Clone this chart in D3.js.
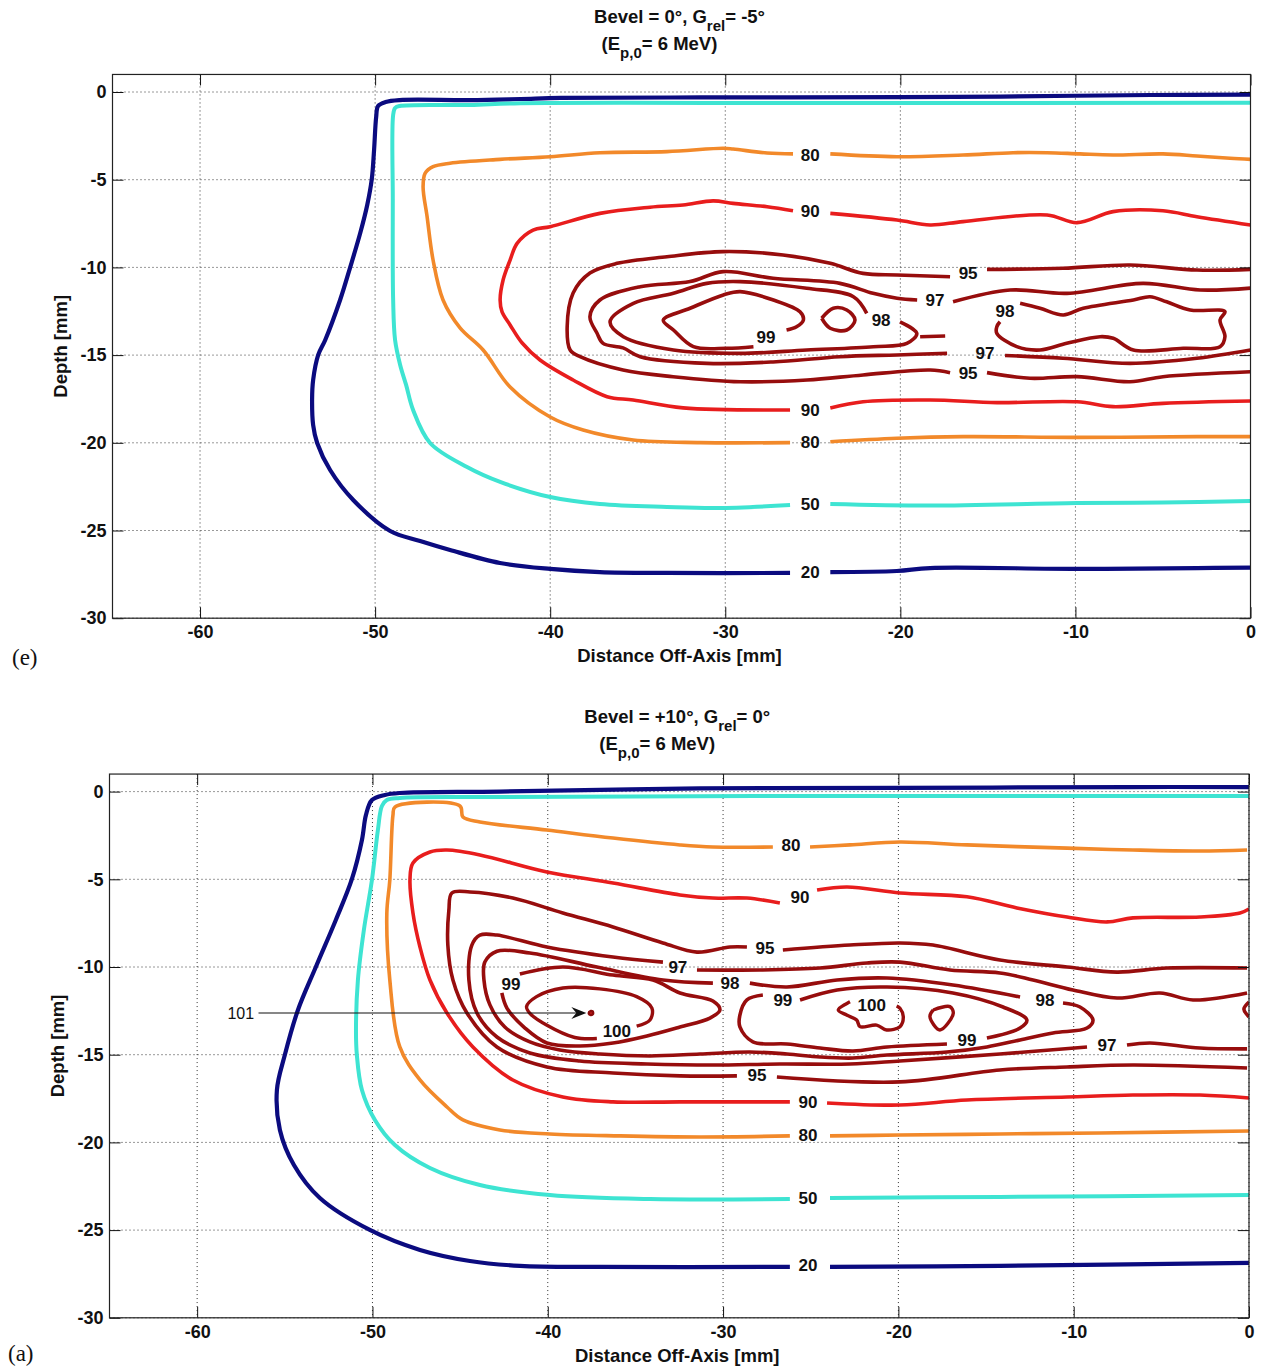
<!DOCTYPE html>
<html>
<head>
<meta charset="utf-8">
<script src="https://cdn.jsdelivr.net/npm/d3@7"></script>
<style>
  body { margin: 0; background: #fff; }
  svg { display: block; }
</style>
</head>
<body>
<svg id="fig" width="1262" height="1369"></svg>
<script>
// ---------- axis ticks ----------
const xTicks = [-60, -50, -40, -30, -20, -10, 0];
const yTicks = [0, -5, -10, -15, -20, -25, -30];

// ---------- panel (e): Bevel = 0°, Grel = -5° ----------
// each contour level is a list of line pieces (broken where the inline labels sit), points are [mm off-axis, depth mm]
const e20 = [
  [[0,-0.15],[-5.7,-0.17],[-14.3,-0.26],[-20.0,-0.29],[-31.4,-0.31],[-39.4,-0.34],[-41.7,-0.4],[-44.6,-0.46],[-48.6,-0.46],[-49.4,-0.57],[-49.83,-0.8],[-49.94,-1.43],[-50.06,-3.31],[-50.19,-4.96],[-50.45,-6.44],[-50.85,-8.04],[-51.42,-9.98],[-52.0,-11.86],[-52.85,-14.14],[-53.25,-14.99],[-53.54,-16.42],[-53.6,-17.56],[-53.54,-18.98],[-53.31,-20.01],[-52.57,-21.55],[-51.25,-23.26],[-49.14,-25.03],[-47.43,-25.6],[-45.72,-26.11],[-42.87,-26.85],[-40.0,-27.19],[-37.16,-27.37],[-33.33,-27.42],[-26.3,-27.42]],
  [[-24.0,-27.37],[-20.2,-27.31],[-18.3,-27.14],[-9.9,-27.19],[-3.06,-27.14],[0,-27.12]]
];
const e50 = [
  [[0,-0.61],[-24.0,-0.63],[-41.7,-0.64],[-44.6,-0.74],[-48.6,-0.8],[-48.86,-0.91],[-48.97,-1.31],[-48.99,-6.16],[-48.97,-11.86],[-48.86,-14.14],[-48.57,-15.56],[-48.23,-16.7],[-47.83,-18.13],[-46.86,-20.01],[-44.75,-21.38],[-42.86,-22.23],[-40.0,-23.09],[-37.16,-23.49],[-33.33,-23.66],[-30.47,-23.72],[-26.3,-23.55]],
  [[-24.0,-23.49],[-18.3,-23.58],[-9.9,-23.43],[-5.0,-23.41],[0,-23.32]]
];
const e80 = [
  [[0,-3.84],[-1.17,-3.78],[-3.06,-3.65],[-5.0,-3.53],[-7.85,-3.59],[-9.74,-3.53],[-11.62,-3.46],[-13.56,-3.46],[-16.42,-3.59],[-20.19,-3.69],[-24.0,-3.53]],
  [[-26.13,-3.53],[-27.61,-3.48],[-29.55,-3.25],[-30.12,-3.21],[-33.33,-3.4],[-37.16,-3.46],[-40.0,-3.69],[-42.86,-3.84],[-45.72,-4.06],[-46.69,-4.26],[-47.14,-4.63],[-47.26,-5.4],[-47.03,-7.11],[-46.69,-9.58],[-46.12,-11.86],[-45.15,-13.45],[-43.83,-14.71],[-42.29,-16.82],[-40.0,-18.53],[-38.12,-19.27],[-35.26,-19.84],[-31.44,-19.99],[-26.3,-19.99]],
  [[-24.0,-19.94],[-20.19,-19.74],[-16.42,-19.65],[-9.91,-19.69],[-3.06,-19.65],[0,-19.65]]
];
const e90 = [
  [[0,-7.58],[-3.06,-7.11],[-5.0,-6.77],[-7.85,-6.82],[-9.91,-7.45],[-11.62,-7.01],[-16.42,-7.39],[-18.3,-7.58],[-20.19,-7.3],[-24.0,-6.92]],
  [[-26.13,-6.77],[-27.61,-6.54],[-29.55,-6.35],[-30.69,-6.21],[-32.41,-6.44],[-34.29,-6.57],[-37.16,-6.92],[-40.0,-7.68],[-40.98,-7.87],[-41.89,-8.63],[-42.29,-9.58],[-42.69,-10.72],[-42.86,-11.86],[-42.75,-12.54],[-42.29,-13.28],[-41.6,-14.31],[-40.58,-15.28],[-38.69,-16.42],[-36.75,-17.37],[-35.26,-17.56],[-32.41,-18.01],[-26.3,-18.13]],
  [[-24.0,-18.01],[-22.13,-17.66],[-18.3,-17.56],[-14.48,-17.71],[-9.91,-17.66],[-7.85,-17.94],[-5.0,-17.75],[0,-17.62]]
];
const e95 = [
  [[0,-10.11],[-3.06,-10.15],[-6.88,-9.86],[-10.71,-10.05],[-15.05,-10.11]],
  [[-17.16,-10.53],[-20.19,-10.43],[-22.13,-10.34],[-24.0,-9.77],[-26.7,-9.29],[-30.12,-9.1],[-33.33,-9.39],[-36.18,-9.77],[-37.73,-10.32],[-38.69,-11.46],[-39.03,-13.38],[-38.86,-14.71],[-38.29,-15.09],[-35.84,-15.85],[-32.98,-16.23],[-29.15,-16.52],[-25.33,-16.42],[-22.13,-16.13],[-18.3,-15.85],[-17.16,-16.0]],
  [[-15.05,-16.0],[-12.59,-16.32],[-9.91,-16.23],[-6.88,-16.52],[-5.0,-16.23],[0,-15.95]]
];
const e97 = [
  [[0,-11.18],[-2.88,-11.29],[-6.14,-10.91],[-10.48,-11.48],[-13.73,-11.29],[-16.99,-11.96]],
  [[-19.04,-11.86],[-20.19,-11.76],[-21.56,-11.48],[-23.45,-10.91],[-27.27,-10.62],[-30.12,-10.24],[-32.01,-10.81],[-34.86,-11.1],[-37.16,-11.86],[-37.73,-12.81],[-37.33,-13.74],[-36.98,-14.33],[-35.84,-14.59],[-34.86,-15.09],[-31.05,-15.47],[-27.27,-15.39],[-23.45,-15.09],[-20.19,-14.99],[-17.33,-14.9]],
  [[-14.02,-15.02],[-10.71,-15.18],[-6.88,-15.47],[-3.06,-15.18],[0,-14.71]]
];
const e98 = [
  [[-20.02,-13.1],[-19.06,-13.76],[-19.63,-14.33],[-21.54,-14.52],[-25.35,-14.71],[-29.15,-14.9],[-32.96,-14.71],[-35.82,-13.95],[-36.58,-13.1],[-35.25,-12.05],[-32.96,-11.48],[-31.06,-10.91],[-29.15,-10.81],[-25.35,-11.19],[-22.68,-11.67],[-21.92,-12.62]],
  [[-18.87,-13.95],[-17.44,-13.91]],
  [[-13.16,-12.05],[-12.02,-12.33],[-10.69,-12.71],[-9.55,-12.33],[-6.69,-11.86],[-5.74,-11.67],[-4.79,-11.96],[-3.45,-12.43],[-1.46,-12.52],[-1.74,-13.0],[-1.46,-13.95],[-1.74,-14.52],[-3.84,-14.61],[-6.69,-14.71],[-7.84,-14.04],[-8.59,-13.95],[-10.5,-14.33],[-12.02,-14.71],[-13.35,-14.52],[-14.49,-13.76],[-14.49,-13.38],[-14.31,-13.1]]
];
const e99 = [
  [[-26.5,-13.57],[-25.93,-13.38],[-25.54,-13.0],[-25.73,-12.53],[-27.25,-11.86],[-29.15,-11.38],[-30.11,-11.57],[-32.01,-12.33],[-33.54,-13.0],[-32.96,-13.57],[-31.82,-14.52],[-29.91,-14.61],[-28.39,-14.52]],
  [[-24.49,-12.9],[-23.83,-12.33],[-23.06,-12.43],[-22.59,-13.0],[-23.06,-13.57],[-24.01,-13.47],[-24.49,-12.9]]
];
// inline labels: [level, x mm, depth mm]
const eLabels = [
  [20,-25.15,-27.37],[50,-25.15,-23.49],[80,-25.15,-3.59],[80,-25.15,-19.95],
  [90,-25.15,-6.78],[90,-25.15,-18.13],[95,-16.13,-10.32],[95,-16.13,-16.02],
  [97,-18.02,-11.86],[97,-15.16,-14.88],[98,-21.1,-13.0],[98,-14.02,-12.49],[99,-27.67,-13.97]
];

// ---------- panel (a): Bevel = +10°, Grel = 0° ----------
const a20 = [
  [[0,0.26],[-6.79,0.26],[-19.91,0.21],[-31.32,0.18],[-42.73,0.0],[-48.44,-0.08],[-49.29,-0.19],[-50.03,-0.48],[-50.37,-1.33],[-50.6,-2.76],[-51.17,-4.98],[-52.09,-7.32],[-53.23,-10.0],[-54.25,-12.45],[-55.0,-15.02],[-55.45,-17.01],[-55.28,-19.29],[-54.48,-21.29],[-53.0,-23.17],[-50.15,-24.99],[-47.29,-26.13],[-44.44,-26.76],[-41.59,-27.04],[-37.03,-27.1],[-26.19,-27.1]],
  [[-23.9,-27.1],[-14.21,-27.04],[0,-26.87]]
];
const a50 = [
  [[0,-0.25],[-25.61,-0.25],[-42.73,-0.31],[-48.44,-0.36],[-49.18,-0.48],[-49.46,-0.82],[-49.69,-2.19],[-50.03,-5.04],[-50.49,-7.89],[-50.83,-10.74],[-50.94,-13.59],[-50.89,-15.02],[-50.6,-17.01],[-49.86,-18.72],[-48.72,-20.15],[-46.72,-21.46],[-43.87,-22.43],[-39.88,-23.0],[-34.17,-23.23],[-26.19,-23.23]],
  [[-23.9,-23.17],[-14.21,-23.11],[0,-23.0]]
];
const a80 = [
  [[-0.11,-3.33],[-2.8,-3.39],[-6.62,-3.33],[-10.38,-3.22],[-16.09,-3.04],[-19.91,-2.87],[-22.76,-3.04],[-25.04,-3.16]],
  [[-27.16,-3.16],[-30.58,-3.16],[-32.46,-3.04],[-36.28,-2.65],[-40.05,-2.19],[-43.87,-1.73],[-44.84,-1.45],[-45.01,-0.82],[-48.72,-0.88],[-48.83,-1.33],[-49.01,-5.04],[-49.18,-6.92],[-49.01,-10.74],[-48.44,-14.56],[-47.29,-16.44],[-45.75,-17.98],[-44.84,-18.72],[-42.73,-19.29],[-39.88,-19.52],[-35.88,-19.63],[-31.32,-19.69],[-26.19,-19.63]],
  [[-23.9,-19.63],[-19.91,-19.58],[-14.21,-19.52],[-8.5,-19.46],[0,-19.35]]
];
const a90 = [
  [[0,-6.69],[-0.51,-6.92],[-2.8,-7.15],[-6.62,-7.2],[-8.1,-7.43],[-10.38,-7.15],[-13.24,-6.63],[-16.09,-6.0],[-19.91,-5.78],[-22.93,-5.44],[-24.64,-5.61]],
  [[-26.76,-6.35],[-28.64,-6.07],[-30.58,-6.07],[-32.46,-5.89],[-36.28,-5.21],[-40.05,-4.58],[-43.87,-3.61],[-45.75,-3.33],[-46.72,-3.44],[-47.69,-4.07],[-47.86,-5.04],[-47.69,-6.92],[-47.29,-8.86],[-46.72,-10.74],[-45.75,-12.62],[-44.27,-14.56],[-41.99,-16.44],[-39.14,-17.41],[-36.28,-17.69],[-32.46,-17.69],[-26.19,-17.69]],
  [[-24.07,-17.75],[-19.91,-17.87],[-16.09,-17.58],[-10.38,-17.41],[-6.62,-17.3],[-2.8,-17.3],[0,-17.47]]
];
const a95 = [
  [[-0.11,-10.06],[-4.68,-10.06],[-7.53,-10.29],[-10.38,-10.0],[-14.21,-9.6],[-18.03,-8.75],[-19.91,-8.63],[-22.76,-8.75],[-26.59,-9.03]],
  [[-28.64,-8.86],[-29.61,-8.86],[-31.49,-9.15],[-33.43,-8.63],[-36.28,-7.72],[-39.14,-6.92],[-41.99,-6.07],[-44.44,-5.72],[-45.47,-5.78],[-45.64,-6.75],[-45.7,-8.75],[-45.41,-10.74],[-44.61,-12.62],[-42.9,-14.56],[-40.05,-15.7],[-36.28,-16.04],[-32.46,-16.21],[-29.21,-16.21]],
  [[-26.93,-16.27],[-19.91,-16.55],[-14.21,-15.87],[-10.38,-15.7],[-6.62,-15.59],[-0.11,-15.76]]
];
const a97 = [
  [[-0.11,-11.48],[-3.19,-11.88],[-5.08,-11.48],[-7.53,-11.77],[-10.04,-11.31],[-12.32,-10.74],[-14.21,-10.34],[-17.06,-10.17],[-19.91,-9.72],[-21.79,-9.77],[-24.47,-10.06],[-27.9,-10.17],[-31.49,-10.17]],
  [[-33.43,-9.72],[-36.28,-9.43],[-40.05,-8.86],[-42.9,-8.18],[-43.87,-8.18],[-44.33,-8.75],[-44.5,-10.74],[-44.04,-12.62],[-42.9,-13.99],[-41.02,-14.9],[-38.17,-15.36],[-34.34,-15.53],[-30.58,-15.59],[-26.76,-15.53],[-22.76,-15.53],[-19.91,-15.36],[-14.21,-14.96],[-9.24,-14.56]],
  [[-6.96,-14.45],[-5.65,-14.33],[-2.8,-14.62],[-0.11,-14.67]]
];
const a98 = [
  [[-28.47,-10.92],[-26.36,-11.14],[-23.5,-10.74],[-20.65,-10.63],[-16.89,-11.03],[-13.06,-11.71]],
  [[-10.61,-12.05],[-9.64,-12.28],[-8.9,-13.02],[-9.24,-13.48],[-11.18,-13.76],[-13.06,-14.16],[-14.95,-14.56],[-17.23,-14.85],[-20.65,-15.02],[-22.59,-15.19],[-24.47,-15.13],[-26.36,-14.96],[-28.47,-14.85],[-31.32,-14.96],[-34.17,-15.07],[-37.03,-14.96],[-39.31,-14.73],[-41.02,-14.27],[-42.45,-13.42],[-43.3,-12.16],[-43.64,-10.74],[-43.59,-9.72],[-42.9,-9.1],[-41.02,-9.2],[-37.2,-10.0],[-33.43,-10.74],[-30.58,-10.92]]
];
const a99 = [
  [[-41.59,-10.4],[-39.14,-10.0],[-36.28,-10.46],[-34.0,-10.74],[-32.46,-11.48],[-30.58,-11.94],[-30.18,-12.45],[-30.75,-12.91],[-32.46,-13.42],[-34.34,-13.93],[-36.28,-14.33],[-38.17,-14.5],[-40.05,-14.33],[-41.3,-13.48],[-42.33,-12.34],[-42.62,-11.48]],
  [[-25.61,-11.88],[-23.5,-11.31],[-20.65,-11.14],[-16.89,-11.48],[-14.03,-12.28],[-12.67,-13.02],[-13.06,-13.48],[-14.95,-14.05]],
  [[-17.23,-14.39],[-20.65,-14.56],[-22.59,-14.79],[-24.47,-14.62],[-26.36,-14.39],[-28.3,-14.27],[-29.04,-13.42],[-29.04,-12.74],[-28.64,-11.88],[-27.73,-11.6]],
  [[0,-12.0],[-0.29,-12.4],[0,-12.85]]
];
const a100 = [
  [[-34.93,-13.37],[-34.17,-13.02],[-34.06,-12.34],[-34.93,-11.69],[-37.03,-11.25],[-39.14,-11.2],[-40.64,-11.69],[-41.21,-12.26],[-41.02,-12.64],[-40.07,-13.31],[-38.46,-14.02],[-37.2,-14.08]],
  [[-20.1,-12.22],[-19.91,-12.35],[-19.72,-12.83],[-19.91,-13.4],[-20.67,-13.59],[-21.24,-13.31],[-22.19,-13.4],[-22.38,-13.02],[-22.95,-12.74],[-23.43,-12.45],[-22.76,-11.98]],
  [[-18.01,-12.45],[-17.06,-12.26],[-16.87,-12.64],[-17.63,-13.59],[-18.2,-12.83],[-18.01,-12.45]]
];
const a101 = [
  [[-37.62,-12.52],[-37.45,-12.52],[-37.42,-12.68],[-37.55,-12.74],[-37.66,-12.66],[-37.62,-12.52]]
];
const aLabels = [
  [20,-25.16,-26.98],[50,-25.16,-23.17],[80,-26.13,-3.04],[80,-25.16,-19.58],
  [90,-25.61,-6.0],[90,-25.16,-17.69],[95,-27.61,-8.92],[95,-28.07,-16.16],
  [97,-32.58,-10.0],[97,-8.1,-14.45],[98,-29.61,-10.92],[98,-11.64,-11.88],
  [99,-42.1,-10.97],[99,-26.59,-11.88],[99,-16.09,-14.16],[100,-36.06,-13.65],[100,-21.52,-12.16]
];
// peak annotation: label position and arrow run (mm)
const aPeak = { level: 101, label: [-57.51, -12.62], from: [-56.5, -12.62], to: [-37.8, -12.62] };

// ---------- drawing ----------
const FONT = "'Liberation Sans', Arial, Helvetica, sans-serif";
const SERIF = "'Liberation Serif', 'Times New Roman', serif";
const levelColor = { 20: "#0b0b7f", 50: "#3ee4d2", 80: "#f2892a", 90: "#e81d1d",
                     95: "#970d0d", 97: "#970d0d", 98: "#970d0d", 99: "#970d0d", 100: "#970d0d", 101: "#8a0a0a" };
const levelWidth = { 20: 4.2, 50: 4.0, 80: 3.6, 90: 3.6, 95: 3.6, 97: 3.6, 98: 3.6, 99: 3.6, 100: 3.4, 101: 2.5 };

const svg = d3.select("#fig");

function drawPanel(cfg) {
  const g = svg.append("g");
  const x = d3.scaleLinear().domain([-65, 0]).range([cfg.left, cfg.right]);
  const y = d3.scaleLinear().domain([-30, 1]).range([cfg.bottom, cfg.top]);
  const W = cfg.right - cfg.left, H = cfg.bottom - cfg.top;

  // dotted grid
  const grid = g.append("g").attr("stroke", "#333").attr("stroke-width", 1).attr("stroke-dasharray", "1,3");
  xTicks.forEach(t => grid.append("line").attr("x1", x(t)).attr("x2", x(t)).attr("y1", cfg.top).attr("y2", cfg.bottom));
  yTicks.forEach(t => grid.append("line").attr("x1", cfg.left).attr("x2", cfg.right).attr("y1", y(t)).attr("y2", y(t)));

  // contour lines
  const clipId = "clip-" + cfg.id;
  g.append("clipPath").attr("id", clipId).append("rect")
    .attr("x", cfg.left).attr("y", cfg.top).attr("width", W).attr("height", H);
  const lines = g.append("g").attr("clip-path", `url(#${clipId})`);
  const path = d3.line().x(d => x(d[0])).y(d => y(d[1])).curve(d3.curveCatmullRom.alpha(0.5));
  cfg.contours.forEach(([level, pieces]) => {
    pieces.forEach(p => {
      lines.append("path").attr("d", path(p))
        .attr("fill", level === 101 ? "#c81818" : "none")
        .attr("stroke", levelColor[level]).attr("stroke-width", levelWidth[level])
        .attr("stroke-linejoin", "round").attr("stroke-linecap", "butt");
    });
  });

  // inline contour labels
  g.append("g").selectAll("text").data(cfg.labels).join("text")
    .attr("x", d => x(d[1])).attr("y", d => y(d[2])).attr("dy", "0.36em")
    .attr("text-anchor", "middle").attr("font-family", FONT).attr("font-weight", "bold")
    .attr("font-size", 17).attr("fill", "#111").text(d => d[0]);

  // peak annotation arrow
  if (cfg.peak) {
    const pk = cfg.peak;
    const x0 = x(pk.from[0]), x1 = x(pk.to[0]), yy = y(pk.to[1]);
    g.append("line").attr("x1", x0).attr("x2", x1 - 6).attr("y1", yy).attr("y2", yy)
      .attr("stroke", "#111").attr("stroke-width", 1.1);
    g.append("path").attr("d", `M${x1},${yy} L${x1 - 15},${yy - 6} L${x1 - 10},${yy} L${x1 - 15},${yy + 6} Z`)
      .attr("fill", "#111");
    g.append("text").attr("x", x(pk.label[0])).attr("y", y(pk.label[1])).attr("dy", "0.36em")
      .attr("text-anchor", "middle").attr("font-family", FONT).attr("font-size", 16)
      .attr("fill", "#111").text(pk.level);
  }

  // axes with inward ticks on all four sides
  const styleAxis = sel => {
    sel.select(".domain").remove();
    sel.selectAll(".tick line").attr("stroke", "#111").attr("stroke-width", 1);
    sel.attr("font-family", FONT).attr("font-size", 18).attr("font-weight", "bold");
    sel.selectAll(".tick text").attr("fill", "#111");
  };
  g.append("g").attr("transform", `translate(0,${cfg.bottom})`)
    .call(d3.axisBottom(x).tickValues(xTicks).tickSize(-11).tickPadding(7).tickFormat(d => String(d))).call(styleAxis);
  g.append("g").attr("transform", `translate(0,${cfg.top})`)
    .call(d3.axisTop(x).tickValues(xTicks).tickSize(-11).tickFormat("")).call(styleAxis);
  g.append("g").attr("transform", `translate(${cfg.left},0)`)
    .call(d3.axisLeft(y).tickValues(yTicks).tickSize(-11).tickPadding(6).tickFormat(d => String(d))).call(styleAxis);
  g.append("g").attr("transform", `translate(${cfg.right},0)`)
    .call(d3.axisRight(y).tickValues(yTicks).tickSize(-11).tickFormat("")).call(styleAxis);

  // frame
  g.append("rect").attr("x", cfg.left).attr("y", cfg.top).attr("width", W).attr("height", H)
    .attr("fill", "none").attr("stroke", "#222").attr("stroke-width", 1.2);

  // axis titles
  const cx = (cfg.left + cfg.right) / 2;
  g.append("text").attr("x", cx - 2).attr("y", cfg.bottom + 44).attr("text-anchor", "middle")
    .attr("font-family", FONT).attr("font-weight", "bold").attr("font-size", 18.5).attr("fill", "#111")
    .text("Distance Off-Axis [mm]");
  g.append("text").attr("transform", `translate(${cfg.left - 46},${(cfg.top + cfg.bottom) / 2}) rotate(-90)`)
    .attr("text-anchor", "middle").attr("font-family", FONT).attr("font-weight", "bold")
    .attr("font-size", 18.5).attr("fill", "#111").text("Depth [mm]");

  // two-line title with subscripts
  const t1 = g.append("text").attr("x", cx - 2).attr("y", cfg.top - 51).attr("text-anchor", "middle")
    .attr("font-family", FONT).attr("font-weight", "bold").attr("font-size", 18.5).attr("fill", "#111");
  t1.append("tspan").text(cfg.title[0]);
  t1.append("tspan").attr("dy", 8).attr("font-size", 15).text("rel");
  t1.append("tspan").attr("dy", -8).text(cfg.title[1]);
  const t2 = g.append("text").attr("x", cx - 22).attr("y", cfg.top - 24).attr("text-anchor", "middle")
    .attr("font-family", FONT).attr("font-weight", "bold").attr("font-size", 18.5).attr("fill", "#111");
  t2.append("tspan").text("(E");
  t2.append("tspan").attr("dy", 8).attr("font-size", 15).text("p,0");
  t2.append("tspan").attr("dy", -8).text("= 6 MeV)");

  // panel tag
  svg.append("text").attr("x", cfg.tag[1]).attr("y", cfg.tag[2]).attr("font-family", SERIF)
    .attr("font-size", 23).attr("fill", "#111").text(cfg.tag[0]);
}

drawPanel({
  id: "e", left: 112.5, right: 1250.5, top: 74.46, bottom: 618.2,
  title: ["Bevel = 0°, G", "= -5°"], tag: ["(e)", 12, 665],
  contours: [[20, e20], [50, e50], [80, e80], [90, e90], [95, e95], [97, e97], [98, e98], [99, e99]],
  labels: eLabels
});
drawPanel({
  id: "a", left: 109.5, right: 1249, top: 774.06, bottom: 1317.8,
  title: ["Bevel = +10°, G", "= 0°"], tag: ["(a)", 8, 1361],
  contours: [[20, a20], [50, a50], [80, a80], [90, a90], [95, a95], [97, a97], [98, a98], [99, a99], [100, a100], [101, a101]],
  labels: aLabels, peak: aPeak
});
</script>
</body>
</html>
